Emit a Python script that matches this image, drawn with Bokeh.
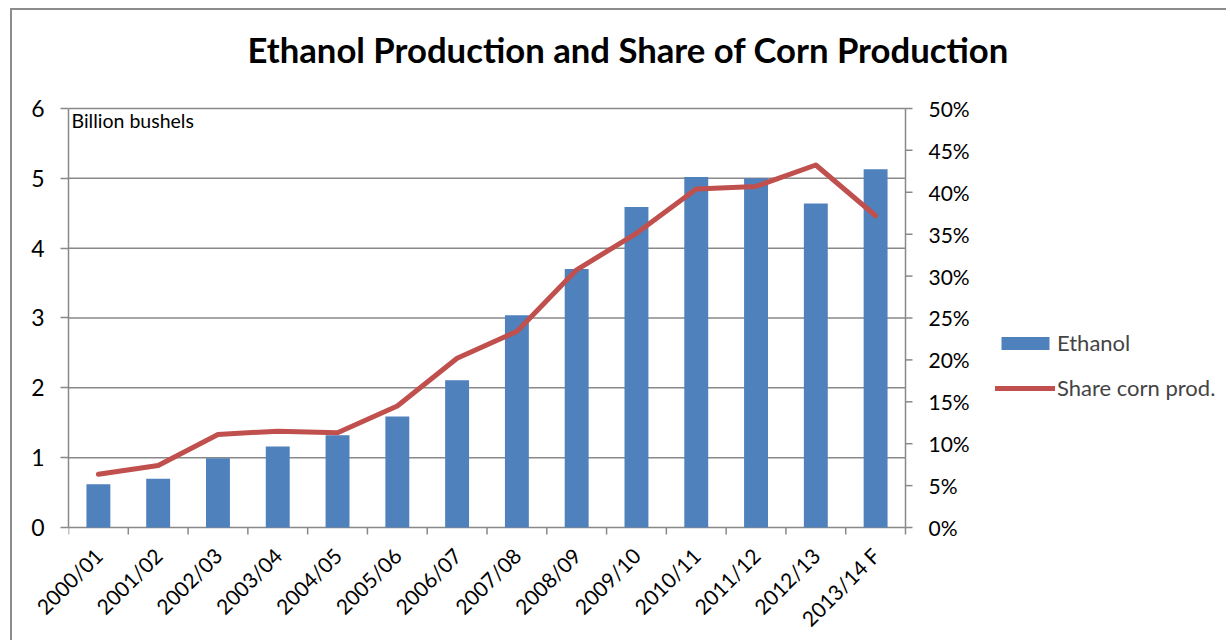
import math
from bokeh.plotting import figure
from bokeh.models import (Range1d, LinearAxis, FixedTicker, CustomJSTickFormatter,
                          Legend, LegendItem, Label, ColumnDataSource)
from bokeh.core.properties import value
from bokeh.embed import file_html
from bokeh.resources import INLINE

categories = ["2000/01", "2001/02", "2002/03", "2003/04", "2004/05", "2005/06", "2006/07",
              "2007/08", "2008/09", "2009/10", "2010/11", "2011/12", "2012/13", "2013/14 F"]
ethanol = [0.62, 0.70, 0.99, 1.16, 1.32, 1.59, 2.11, 3.04, 3.70, 4.59, 5.02, 5.00, 4.64, 5.13]
share_pct = [6.35, 7.4, 11.1, 11.5, 11.3, 14.5, 20.2, 23.4, 30.75, 35.1, 40.4, 40.7, 43.25, 37.2]
left_ticks = [0, 1, 2, 3, 4, 5, 6]
right_ticks = [0, 5, 10, 15, 20, 25, 30, 35, 40, 45, 50]
right_labels = ["%d%%" % t for t in right_ticks]

FONT = "Lato"
GRAY = "#898989"
BAR = "#4F81BD"
LINE = "#C0504D"

# layout constants (pixels)
PLOT_W_PX = 837      # width of the category area
PLOT_H_PX = 420      # height of the value area (0..6)
FRAME_W = 1160       # frame extends to the right to host the legend
PAD_TOP = 26         # extra frame space above the value area
PAD_BOTTOM = 10      # extra frame space below the value area

n = len(categories)
ymax_left = left_ticks[-1]
ymax_right = right_ticks[-1]
x_end = n * FRAME_W / PLOT_W_PX
px_left = ymax_left / PLOT_H_PX
px_right = ymax_right / PLOT_H_PX

xpos = [i + 0.5 for i in range(n)]
src = ColumnDataSource(dict(x=xpos, eth=ethanol, share=share_pct, cat=categories))

p = figure(width=1216, height=632, output_backend="svg", toolbar_location=None,
           x_range=Range1d(0, x_end),
           y_range=Range1d(-PAD_BOTTOM * px_left, ymax_left + PAD_TOP * px_left),
           min_border_left=56, min_border_right=0, min_border_top=72, min_border_bottom=104,
           x_axis_type=None, y_axis_type=None)
p.styles = {"margin-left": "10px", "margin-top": "8px",
            "border-left": "2px solid #8c8c8c", "border-top": "2px solid #8c8c8c"}
p.extra_y_ranges = {"pct": Range1d(-PAD_BOTTOM * px_right, ymax_right + PAD_TOP * px_right)}
p.outline_line_color = None
p.background_fill_color = "white"
p.border_fill_color = "white"

p.title.text = "Ethanol Production and Share of Corn Production"
p.title.text_font = FONT
p.title.text_font_size = "34.7px"
p.title.text_font_style = "bold"
p.title.text_color = "black"
p.title.align = "left"
p.title.offset = 179
p.title.standoff = 26

# x axis labels (category names at centres)
xaxis = LinearAxis(ticker=FixedTicker(ticks=xpos),
                   formatter=CustomJSTickFormatter(args=dict(labels=categories),
                                                   code="return labels[Math.floor(tick)] || ''"))
xaxis.major_tick_in = 0
xaxis.major_tick_out = 0
xaxis.minor_tick_line_color = None
xaxis.axis_line_color = None
xaxis.major_label_orientation = math.pi / 4
xaxis.major_label_text_font = FONT
xaxis.major_label_text_font_size = "21px"
xaxis.major_label_text_color = "black"
xaxis.major_label_standoff = 14
p.add_layout(xaxis, "below")

# left y axis
yaxis = LinearAxis(ticker=FixedTicker(ticks=left_ticks), bounds=(left_ticks[0], left_ticks[-1]))
yaxis.major_tick_in = 0
yaxis.major_tick_out = 8
yaxis.minor_tick_line_color = None
yaxis.major_tick_line_color = GRAY
yaxis.major_tick_line_width = 1.5
yaxis.axis_line_color = GRAY
yaxis.axis_line_width = 1.5
yaxis.major_label_text_font = FONT
yaxis.major_label_text_font_size = "23px"
yaxis.major_label_text_color = "black"
yaxis.major_label_standoff = 16
p.add_layout(yaxis, "left")

# horizontal gridlines (the one at 0 doubles as the category axis line)
p.segment(x0=0, x1=n, y0=left_ticks, y1=left_ticks, line_color=GRAY, line_width=1.5)
# category boundary ticks below the axis line
p.ray(x=list(range(n + 1)), y=left_ticks[0], length=7, length_units="screen",
      angle=-math.pi / 2, line_color=GRAY, line_width=1.5)

# right (percentage) axis at the end of the category area
p.segment(x0=[n], x1=[n], y0=[left_ticks[0]], y1=[left_ticks[-1]], line_color=GRAY, line_width=1.5)
p.ray(x=n, y=right_ticks, length=7, length_units="screen", angle=0, y_range_name="pct",
      line_color=GRAY, line_width=1.5)
p.text(x=n, y=right_ticks, text=right_labels, y_range_name="pct", x_offset=23,
       text_baseline="middle", text_align="left", text_font=value(FONT),
       text_font_size="21px", text_color="black")

bars = p.vbar(x="x", top="eth", width=0.4, bottom=0, source=src, fill_color=BAR, line_color=None)
line = p.line(x="x", y="share", y_range_name="pct", source=src, line_color=LINE, line_width=5,
              line_cap="round", line_join="round")

p.add_layout(Label(x=0, y=ymax_left, x_offset=3, y_offset=-1, text="Billion bushels",
                   text_font=FONT, text_font_size="19.5px", text_baseline="top",
                   text_color="black"))

legend = Legend(items=[LegendItem(label="Ethanol", renderers=[bars]),
                       LegendItem(label="Share corn prod.", renderers=[line])],
                location=(927, 136), padding=0, margin=0, spacing=18,
                glyph_width=60, glyph_height=16, label_height=22,
                label_text_font=FONT, label_text_font_size="22px", label_standoff=2,
                border_line_color=None, background_fill_alpha=0)
p.add_layout(legend, "center")

open("out.html", "w").write(file_html(p, INLINE))
